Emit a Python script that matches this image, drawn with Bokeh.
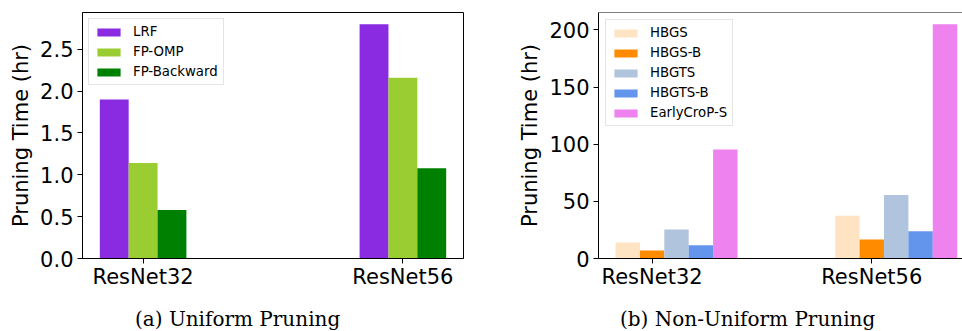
from bokeh.plotting import figure
from bokeh.models import (FixedTicker, Legend, LegendItem, Span, NumeralTickFormatter, Div)
from bokeh.layouts import row, column
from bokeh.embed import file_html
from bokeh.resources import INLINE
import numpy as np

# ---------------- data ----------------
models = ["ResNet32", "ResNet56"]

uni_series = ["LRF", "FP-OMP", "FP-Backward"]
uni_lrf = [1.90, 2.80]
uni_fp_omp = [1.14, 2.16]
uni_fp_backward = [0.58, 1.08]
uni_colors = ["#8A2BE2", "#9ACD32", "#008000"]
uni_yticks = [0.0, 0.5, 1.0, 1.5, 2.0, 2.5]

non_series = ["HBGS", "HBGS-B", "HBGTS", "HBGTS-B", "EarlyCroP-S"]
non_hbgs = [14.0, 37.5]
non_hbgs_b = [7.0, 16.6]
non_hbgts = [25.3, 55.6]
non_hbgts_b = [11.6, 23.8]
non_earlycrop_s = [95.4, 205.0]
non_colors = ["#FFE4C4", "#FF8C00", "#B0C4DE", "#6495ED", "#EE82EE"]
non_yticks = [0, 50, 100, 150, 200]

captions = ["(a) Uniform Pruning", "(b) Non-Uniform Pruning"]

W = 1.0 / 9.0
FONT = "DejaVu Sans"
TICK_SIZE = "21px"


def style(p):
    p.xgrid.visible = False
    p.ygrid.visible = False
    p.background_fill_color = "white"
    p.border_fill_color = "white"
    for ax in (p.xaxis[0], p.yaxis[0]):
        ax.major_label_text_font = FONT
        ax.major_label_text_font_size = TICK_SIZE
        ax.major_label_text_color = "black"
        ax.axis_label_text_font = FONT
        ax.axis_label_text_font_size = TICK_SIZE
        ax.axis_label_text_font_style = "normal"
        ax.axis_label_text_color = "black"
        ax.axis_line_color = "black"
        ax.major_tick_line_color = "black"
        ax.major_tick_out = 5
        ax.major_tick_in = 0
        ax.minor_tick_line_color = None
        ax.major_label_standoff = 4
    p.xaxis[0].major_label_standoff = 1
    p.yaxis[0].axis_label = "Pruning Time (hr)"
    p.yaxis[0].axis_label_standoff = 4
    p.xaxis[0].ticker = FixedTicker(ticks=list(range(len(models))))
    p.xaxis[0].major_label_overrides = {i: m for i, m in enumerate(models)}


def add_legend(p, renderers, labels, margin):
    leg = Legend(items=[LegendItem(label=l, renderers=[r]) for l, r in zip(labels, renderers)],
                 location="top_left")
    leg.label_text_font = FONT
    leg.label_text_font_size = "13.3px"
    leg.label_text_color = "black"
    leg.glyph_width = 29
    leg.glyph_height = 10
    leg.label_height = 15
    leg.label_standoff = 10
    leg.spacing = 5
    leg.padding = 5
    leg.margin = margin
    leg.border_line_color = "#cccccc"
    leg.border_line_width = 1
    leg.background_fill_alpha = 0.8
    p.add_layout(leg, "center")


def caption(text, width, pad_left):
    return Div(text=text, width=width, height=31, margin=0,
               styles={"font-family": "'DejaVu Serif'", "font-size": "20px", "color": "black",
                       "line-height": "24px", "padding-top": "7px", "padding-left": f"{pad_left}px",
                       "white-space": "nowrap", "box-sizing": "border-box"})


xs = np.arange(len(models))

# ---------------- (a) uniform ----------------
p1 = figure(width=480, height=300, output_backend="svg", toolbar_location=None,
            x_range=(-0.2333, 1.2333), y_range=(0, 2.94),
            min_border_left=82, min_border_right=17, min_border_top=12, min_border_bottom=42)
r1 = []
for k, (vals, col) in enumerate(zip([uni_lrf, uni_fp_omp, uni_fp_backward], uni_colors)):
    r1.append(p1.vbar(x=xs + (k - 1) * W, top=vals, width=W, bottom=0, fill_color=col, line_color=None))
style(p1)
p1.yaxis[0].ticker = FixedTicker(ticks=uni_yticks)
p1.yaxis[0].formatter = NumeralTickFormatter(format="0.0")
p1.outline_line_color = "black"
p1.outline_line_alpha = 1
p1.outline_line_width = 1
add_legend(p1, r1, uni_series, 6)
c1 = caption(captions[0], 480, 135)

# ---------------- (b) non-uniform ----------------
y2_end = 215.25
p2 = figure(width=482, height=300, output_backend="svg", toolbar_location=None,
            x_range=(-0.244, 1.413), y_range=(0, y2_end),
            min_border_left=118, min_border_right=0, min_border_top=12, min_border_bottom=42)
r2 = []
for k, (vals, col) in enumerate(zip([non_hbgs, non_hbgs_b, non_hbgts, non_hbgts_b, non_earlycrop_s],
                                    non_colors)):
    r2.append(p2.vbar(x=xs + (k - 1) * W, top=vals, width=W, bottom=0, fill_color=col, line_color=None))
style(p2)
p2.yaxis[0].ticker = FixedTicker(ticks=non_yticks)
p2.outline_line_color = None
p2.add_layout(Span(location=y2_end, dimension="width", line_color="black", line_width=1))
add_legend(p2, r2, non_series, 7)
c2 = caption(captions[1], 482, 140)

layout = row(column(p1, c1, spacing=0), column(p2, c2, spacing=0), spacing=0)
open("out.html", "w").write(file_html(layout, INLINE))
